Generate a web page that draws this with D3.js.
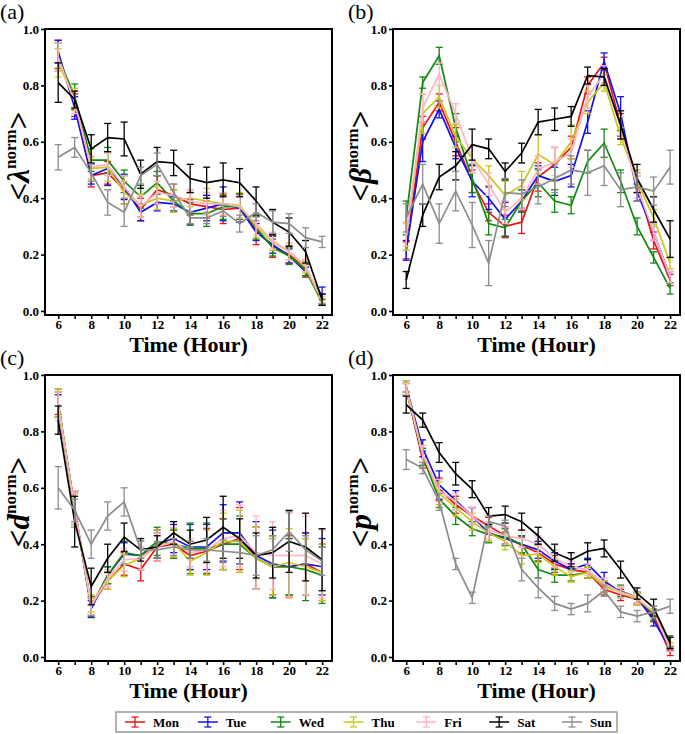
<!DOCTYPE html>
<html><head><meta charset="utf-8">
<script src="https://cdn.jsdelivr.net/npm/d3@7"></script>
<style>body{margin:0;background:#fff}svg{display:block}</style>
</head><body>
<script>
const hours = [6,7,8,9,10,11,12,13,14,15,16,17,18,19,20,21,22];
const xTickLabels = [6,8,10,12,14,16,18,20,22];
const yTickLabels = ["0.0","0.2","0.4","0.6","0.8","1.0"];
const days = ["Mon","Tue","Wed","Thu","Fri","Sat","Sun"];

// (a) lambda
const lamMon = [0.91,0.73,0.48,0.49,0.43,0.36,0.43,0.41,0.38,0.37,0.36,0.365,0.285,0.23,0.20,0.15,0.04];
const lamTue = [0.92,0.72,0.48,0.505,0.44,0.35,0.385,0.38,0.35,0.365,0.38,0.365,0.28,0.235,0.195,0.14,0.055];
const lamWed = [0.90,0.76,0.535,0.535,0.46,0.405,0.455,0.39,0.345,0.345,0.37,0.37,0.295,0.225,0.195,0.145,0.03];
const lamThu = [0.88,0.75,0.505,0.51,0.42,0.375,0.40,0.39,0.40,0.39,0.38,0.375,0.30,0.245,0.21,0.155,0.035];
const lamFri = [0.90,0.74,0.51,0.52,0.44,0.37,0.42,0.41,0.39,0.38,0.38,0.37,0.31,0.25,0.21,0.16,0.04];
const lamSat = [0.81,0.75,0.575,0.615,0.61,0.485,0.53,0.525,0.47,0.455,0.465,0.455,0.39,0.315,0.28,0.21,0.04];
const lamSun = [0.545,0.58,0.49,0.385,0.35,0.48,0.52,0.42,0.33,0.33,0.355,0.31,0.35,0.315,0.31,0.26,0.245];
const lamErrMon = [0.05,0.04,0.04,0.04,0.05,0.04,0.05,0.04,0.04,0.04,0.05,0.05,0.05,0.04,0.03,0.03,0.02];
const lamErrTue = [0.04,0.04,0.03,0.06,0.045,0.03,0.03,0.025,0.045,0.045,0.06,0.05,0.03,0.03,0.025,0.015,0.03];
const lamErrWed = [0.05,0.045,0.04,0.045,0.04,0.04,0.04,0.04,0.04,0.045,0.045,0.045,0.04,0.03,0.03,0.02,0.01];
const lamErrThu = [0.05,0.04,0.04,0.05,0.04,0.04,0.04,0.04,0.03,0.045,0.04,0.045,0.04,0.03,0.03,0.02,0.01];
const lamErrFri = [0.05,0.04,0.04,0.04,0.04,0.04,0.04,0.04,0.04,0.04,0.04,0.04,0.04,0.03,0.03,0.02,0.01];
const lamErrSat = [0.07,0.03,0.05,0.05,0.06,0.05,0.05,0.045,0.05,0.055,0.06,0.05,0.05,0.045,0.05,0.04,0.02];
const lamErrSun = [0.045,0.035,0.03,0.045,0.05,0.03,0.04,0.03,0.02,0.02,0.02,0.03,0.03,0.04,0.035,0.035,0.02];

// (b) beta
const betMon = [0.215,0.65,0.74,0.60,0.46,0.35,0.30,0.315,0.475,0.52,0.58,0.80,0.88,0.66,0.45,0.25,0.11];
const betTue = [0.215,0.60,0.715,0.58,0.46,0.40,0.325,0.39,0.48,0.46,0.48,0.67,0.885,0.70,0.42,0.28,0.12];
const betWed = [0.33,0.81,0.905,0.65,0.47,0.31,0.295,0.39,0.455,0.39,0.375,0.53,0.595,0.46,0.30,0.19,0.08];
const betThu = [0.265,0.70,0.76,0.62,0.54,0.48,0.41,0.445,0.555,0.52,0.60,0.74,0.81,0.62,0.46,0.33,0.17];
const betFri = [0.27,0.72,0.84,0.70,0.54,0.45,0.35,0.40,0.50,0.53,0.56,0.76,0.84,0.65,0.44,0.28,0.12];
const betSat = [0.11,0.34,0.475,0.515,0.59,0.575,0.495,0.56,0.67,0.68,0.69,0.835,0.83,0.66,0.47,0.36,0.255];
const betSun = [0.33,0.45,0.31,0.425,0.305,0.17,0.42,0.415,0.44,0.47,0.50,0.49,0.515,0.43,0.44,0.425,0.51];
const betErrMon = [0.03,0.04,0.03,0.05,0.04,0.03,0.04,0.04,0.05,0.06,0.04,0.03,0.02,0.04,0.03,0.03,0.02];
const betErrTue = [0.035,0.07,0.03,0.04,0.055,0.04,0.06,0.04,0.035,0.05,0.04,0.04,0.03,0.06,0.03,0.03,0.02];
const betErrWed = [0.06,0.02,0.03,0.05,0.05,0.04,0.03,0.04,0.05,0.04,0.03,0.04,0.05,0.04,0.03,0.02,0.02];
const betErrThu = [0.05,0.07,0.04,0.04,0.05,0.035,0.05,0.05,0.07,0.06,0.06,0.04,0.03,0.03,0.04,0.03,0.02];
const betErrFri = [0.04,0.05,0.04,0.035,0.05,0.04,0.04,0.04,0.05,0.05,0.05,0.04,0.03,0.04,0.04,0.03,0.02];
const betErrSat = [0.03,0.04,0.045,0.05,0.055,0.035,0.03,0.035,0.045,0.04,0.035,0.03,0.03,0.05,0.05,0.045,0.065];
const betErrSun = [0.05,0.07,0.07,0.07,0.08,0.08,0.05,0.05,0.06,0.05,0.05,0.08,0.07,0.06,0.05,0.05,0.06];

// (c) d
const dMon = [0.90,0.53,0.18,0.27,0.33,0.31,0.39,0.40,0.36,0.375,0.40,0.42,0.35,0.32,0.32,0.33,0.30];
const dTue = [0.89,0.53,0.17,0.29,0.365,0.36,0.40,0.42,0.39,0.39,0.44,0.44,0.36,0.33,0.32,0.33,0.32];
const dWed = [0.90,0.52,0.18,0.29,0.37,0.36,0.41,0.40,0.385,0.385,0.40,0.40,0.35,0.32,0.32,0.31,0.29];
const dThu = [0.90,0.52,0.19,0.27,0.325,0.35,0.40,0.405,0.34,0.37,0.41,0.41,0.35,0.32,0.335,0.32,0.30];
const dFri = [0.89,0.53,0.18,0.28,0.345,0.35,0.39,0.41,0.37,0.38,0.42,0.43,0.37,0.36,0.36,0.36,0.33];
const dSat = [0.84,0.48,0.25,0.35,0.425,0.38,0.39,0.44,0.40,0.415,0.46,0.42,0.36,0.37,0.41,0.39,0.345];
const dSun = [0.60,0.52,0.40,0.50,0.55,0.38,0.38,0.39,0.38,0.38,0.375,0.37,0.36,0.38,0.445,0.38,0.34];
const dErrMon = [0.04,0.06,0.03,0.03,0.04,0.04,0.05,0.05,0.05,0.08,0.09,0.11,0.11,0.10,0.11,0.11,0.10];
const dErrTue = [0.04,0.06,0.03,0.03,0.04,0.05,0.05,0.05,0.08,0.08,0.10,0.11,0.12,0.12,0.10,0.11,0.10];
const dErrWed = [0.05,0.06,0.035,0.03,0.04,0.05,0.05,0.05,0.09,0.09,0.09,0.10,0.11,0.11,0.10,0.11,0.10];
const dErrThu = [0.05,0.06,0.03,0.03,0.04,0.04,0.05,0.05,0.05,0.08,0.10,0.11,0.11,0.10,0.12,0.10,0.10];
const dErrFri = [0.05,0.06,0.03,0.03,0.04,0.04,0.05,0.05,0.05,0.08,0.10,0.11,0.13,0.12,0.15,0.14,0.12];
const dErrSat = [0.05,0.09,0.065,0.05,0.05,0.04,0.04,0.04,0.05,0.08,0.11,0.07,0.08,0.09,0.11,0.12,0.11];
const dErrSun = [0.075,0.04,0.05,0.05,0.05,0.03,0.03,0.03,0.03,0.04,0.04,0.04,0.07,0.05,0.07,0.05,0.05];

// (d) p
const pMon = [0.95,0.70,0.595,0.54,0.50,0.465,0.43,0.395,0.37,0.33,0.31,0.30,0.24,0.22,0.205,0.145,0.015];
const pTue = [0.96,0.74,0.61,0.555,0.50,0.44,0.42,0.40,0.38,0.34,0.31,0.33,0.27,0.23,0.21,0.13,0.03];
const pWed = [0.95,0.71,0.56,0.50,0.455,0.435,0.425,0.40,0.31,0.29,0.29,0.30,0.25,0.235,0.21,0.15,0.055];
const pThu = [0.96,0.72,0.58,0.53,0.48,0.44,0.41,0.36,0.365,0.32,0.285,0.30,0.25,0.23,0.205,0.16,0.04];
const pFri = [0.95,0.72,0.59,0.55,0.50,0.45,0.43,0.42,0.40,0.35,0.32,0.31,0.26,0.23,0.21,0.16,0.03];
const pSat = [0.895,0.84,0.725,0.65,0.595,0.50,0.505,0.48,0.43,0.37,0.345,0.375,0.385,0.31,0.225,0.175,0.05];
const pSun = [0.70,0.67,0.55,0.33,0.21,0.48,0.465,0.31,0.245,0.19,0.17,0.19,0.235,0.16,0.145,0.16,0.18];
const pErrMon = [0.02,0.03,0.04,0.03,0.03,0.03,0.03,0.03,0.03,0.03,0.02,0.02,0.02,0.02,0.02,0.02,0.01];
const pErrTue = [0.02,0.03,0.05,0.035,0.03,0.03,0.02,0.03,0.03,0.03,0.02,0.02,0.03,0.02,0.02,0.02,0.01];
const pErrWed = [0.02,0.03,0.03,0.03,0.025,0.03,0.03,0.03,0.03,0.025,0.02,0.02,0.02,0.02,0.02,0.02,0.02];
const pErrThu = [0.02,0.03,0.04,0.03,0.03,0.03,0.03,0.03,0.03,0.03,0.02,0.02,0.02,0.02,0.02,0.02,0.01];
const pErrFri = [0.02,0.03,0.04,0.03,0.03,0.03,0.03,0.03,0.03,0.03,0.02,0.02,0.02,0.02,0.02,0.02,0.01];
const pErrSat = [0.03,0.025,0.035,0.04,0.03,0.03,0.03,0.03,0.03,0.03,0.025,0.03,0.03,0.03,0.02,0.03,0.02];
const pErrSun = [0.035,0.02,0.03,0.02,0.02,0.02,0.02,0.04,0.035,0.025,0.02,0.03,0.02,0.02,0.02,0.02,0.025];

const colors = {Mon:"#ee1111",Tue:"#1111ee",Wed:"#118811",Thu:"#c8c81a",Fri:"#ffb3c3",Sat:"#000000",Sun:"#8c8c8c"};

const panels = [
  {tag:"(a)", sym:"λ", left:45, top:29, ylabX:18, vals:[lamMon,lamTue,lamWed,lamThu,lamFri,lamSat,lamSun], errs:[lamErrMon,lamErrTue,lamErrWed,lamErrThu,lamErrFri,lamErrSat,lamErrSun]},
  {tag:"(b)", sym:"β", left:393, top:29, ylabX:360, vals:[betMon,betTue,betWed,betThu,betFri,betSat,betSun], errs:[betErrMon,betErrTue,betErrWed,betErrThu,betErrFri,betErrSat,betErrSun]},
  {tag:"(c)", sym:"d", left:45, top:375, ylabX:18, vals:[dMon,dTue,dWed,dThu,dFri,dSat,dSun], errs:[dErrMon,dErrTue,dErrWed,dErrThu,dErrFri,dErrSat,dErrSun]},
  {tag:"(d)", sym:"p", left:393, top:375, ylabX:360, vals:[pMon,pTue,pWed,pThu,pFri,pSat,pSun], errs:[pErrMon,pErrTue,pErrWed,pErrThu,pErrFri,pErrSat,pErrSun]}
];

const W = 685, H = 734;
const PW = 287, PH = 286;
const font = "'Liberation Serif','Times New Roman',serif";
const svg = d3.select("body").append("svg").attr("width",W).attr("height",H)
  .style("font-family",font);

const x = d3.scaleLinear().domain([5.2,22.6]).range([0,PW]);
const y = d3.scaleLinear().domain([0,1]).range([282,0]);

panels.forEach(p => {
  const g = svg.append("g").attr("transform",`translate(${p.left},${p.top})`);
  days.forEach((day,i) => {
    const v = p.vals[i], e = p.errs[i], c = colors[day];
    const pts = hours.map((h,k)=>({h, v:v[k], e:e[k]}));
    const sg = g.append("g");
    sg.selectAll("line.eb").data(pts).enter().append("line")
      .attr("x1",d=>x(d.h)).attr("x2",d=>x(d.h))
      .attr("y1",d=>y(d.v-d.e)).attr("y2",d=>y(d.v+d.e))
      .attr("stroke",c).attr("stroke-width",1.3);
    [-1,1].forEach(s=>{
      sg.selectAll(null).data(pts).enter().append("line")
        .attr("x1",d=>x(d.h)-3.5).attr("x2",d=>x(d.h)+3.5)
        .attr("y1",d=>y(d.v+s*d.e)).attr("y2",d=>y(d.v+s*d.e))
        .attr("stroke",c).attr("stroke-width",1.3);
    });
    sg.append("path").datum(pts)
      .attr("d",d3.line().x(d=>x(d.h)).y(d=>y(d.v)))
      .attr("fill","none").attr("stroke",c).attr("stroke-width",1.7);
  });
  g.append("rect").attr("x",0).attr("y",0).attr("width",PW).attr("height",PH)
    .attr("fill","none").attr("stroke","#000").attr("stroke-width",2);
  const xa = g.append("g").attr("transform",`translate(0,${PH})`)
    .call(d3.axisBottom(x).tickValues(hours).tickSize(4).tickSizeOuter(0)
      .tickFormat(d=> xTickLabels.includes(d) ? d : ""));
  xa.attr("font-family",font);
  xa.select(".domain").remove();
  xa.selectAll("line").attr("stroke-width",1.6);
  xa.selectAll("text").attr("font-size",13).attr("font-weight","bold").attr("y",5).attr("dy","0.71em");
  const ya = g.append("g")
    .call(d3.axisLeft(y).tickValues(yTickLabels.map(Number)).tickSize(4).tickSizeOuter(0)
      .tickFormat((d,i)=>yTickLabels[i]));
  ya.attr("font-family",font);
  ya.select(".domain").remove();
  ya.selectAll("line").attr("stroke-width",1.6);
  ya.selectAll("text").attr("font-size",13).attr("font-weight","bold").attr("x",-6);
  g.append("text").attr("x",PW/2).attr("y",PH+37).attr("text-anchor","middle")
    .attr("font-size",22).attr("font-weight","bold").text("Time (Hour)");
  svg.append("text").attr("x",p.left-45).attr("y",p.top-10).attr("font-size",22).text(p.tag);
  const yl = svg.append("text").attr("transform",`translate(${p.ylabX},${p.top+127}) rotate(-90)`)
    .attr("text-anchor","middle").attr("dominant-baseline","central").attr("font-weight","bold");
  yl.append("tspan").attr("font-size",31).text("<");
  yl.append("tspan").attr("font-size",31).attr("font-style","italic").text(p.sym);
  yl.append("tspan").attr("font-size",17).attr("dy",-8).text("norm");
  yl.append("tspan").attr("font-size",31).attr("dy",8).text(">");
});

// legend
const lg = svg.append("g");
lg.append("rect").attr("x",116).attr("y",712).attr("width",501).attr("height",20)
  .attr("fill","#fff").attr("stroke","#999").attr("stroke-width",1.5);
const lx = d3.scalePoint().domain(days).range([125,562]);
days.forEach(day=>{
  const c = colors[day], x0 = lx(day);
  lg.append("line").attr("x1",x0).attr("x2",x0+20).attr("y1",722).attr("y2",722).attr("stroke",c).attr("stroke-width",1.5);
  lg.append("line").attr("x1",x0+10).attr("x2",x0+10).attr("y1",717).attr("y2",727).attr("stroke",c).attr("stroke-width",1.3);
  [717,727].forEach(yy=>lg.append("line").attr("x1",x0+6.5).attr("x2",x0+13.5).attr("y1",yy).attr("y2",yy).attr("stroke",c).attr("stroke-width",1.3));
  lg.append("text").attr("x",x0+28).attr("y",722).attr("dominant-baseline","central")
    .attr("font-size",13).attr("font-weight","bold").text(day);
});
</script>
</body></html>
